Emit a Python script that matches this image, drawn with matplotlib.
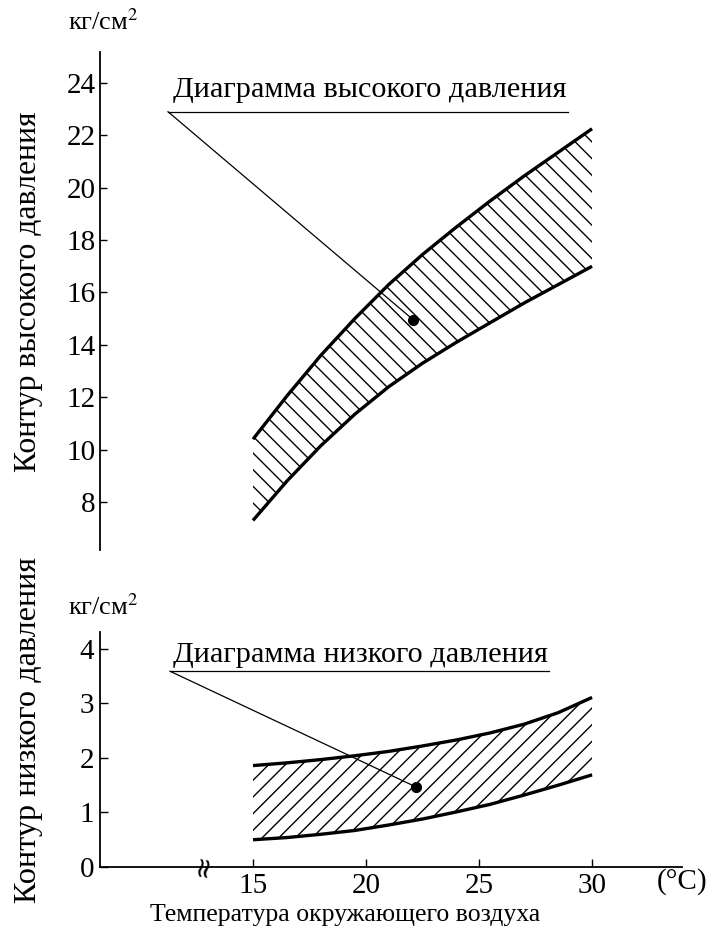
import numpy as np
import matplotlib.pyplot as plt

plt.rcParams['font.family'] = ['Liberation Serif', 'DejaVu Serif']
plt.rcParams['mathtext.fontset'] = 'stix'

temp = [15, 16.5, 18, 19.5, 21, 22.5, 24, 25.5, 27, 28.5, 30]
high_upper = [10.4, 12.05, 13.6, 15.0, 16.3, 17.45, 18.5, 19.5, 20.45, 21.35, 22.25]
high_lower = [7.3, 8.8, 10.15, 11.35, 12.4, 13.3, 14.1, 14.85, 15.6, 16.3, 17.0]
low_upper = [1.86, 1.91, 1.97, 2.04, 2.12, 2.22, 2.33, 2.46, 2.62, 2.83, 3.11]
low_lower = [0.50, 0.54, 0.60, 0.67, 0.77, 0.88, 1.01, 1.15, 1.32, 1.50, 1.69]

high_ticks = [8, 10, 12, 14, 16, 18, 20, 22, 24]
low_ticks = [0, 1, 2, 3, 4]
x_ticks = [15, 20, 25, 30]

high_title = 'Диаграмма высокого давления'
low_title = 'Диаграмма низкого давления'
high_point = (22.1, 14.95)
low_point = (22.2, 1.47)

fs = 21
fig = plt.figure(figsize=(7.09, 9.40), dpi=100)

# upper panel
ax1 = fig.add_axes([100/709, 390/940, 582/709, 498/940])
ax1.set_xlim(8.23, 33.98)
ax1.set_ylim(6.17, 25.18)
for s in ['top', 'right', 'bottom']:
    ax1.spines[s].set_visible(False)
ax1.spines['left'].set_linewidth(1.3)
ax1.set_xticks([])
ax1.set_yticks(high_ticks)
ax1.tick_params(axis='y', direction='in', length=5, width=1, labelsize=fs, pad=3)

ax1.fill_between(temp, high_lower, high_upper, facecolor='none', edgecolor='black',
                 hatch='\\\\', linewidth=0)
ax1.plot(temp, high_upper, color='black', lw=2.4, solid_capstyle='butt', solid_joinstyle='round')
ax1.plot(temp, high_lower, color='black', lw=2.4, solid_capstyle='butt', solid_joinstyle='round')

ax1.plot([11.24, 28.94], [22.9, 22.9], color='black', lw=0.9)
ax1.plot([11.24, high_point[0]], [22.9, high_point[1]], color='black', lw=0.9)
ax1.plot(*high_point, 'o', color='black', ms=7)
ax1.text(11.46, 23.45, high_title, fontsize=21.8, va='baseline', ha='left')

# lower panel
ax2 = fig.add_axes([100/709, 73/940, 582/709, 235/940])
ax2.set_xlim(8.23, 33.98)
ax2.set_ylim(0, 4.31)
for s in ['top', 'right']:
    ax2.spines[s].set_visible(False)
ax2.spines['left'].set_linewidth(1.3)
ax2.spines['bottom'].set_linewidth(1.3)
ax2.set_xticks(x_ticks)
ax2.set_yticks(low_ticks)
ax2.tick_params(axis='both', direction='in', length=6, width=1, labelsize=fs, pad=4)

ax2.fill_between(temp, low_lower, low_upper, facecolor='none', edgecolor='black',
                 hatch='//', linewidth=0)
ax2.plot(temp, low_upper, color='black', lw=2.4, solid_capstyle='butt', solid_joinstyle='round')
ax2.plot(temp, low_lower, color='black', lw=2.4, solid_capstyle='butt', solid_joinstyle='round')

ax2.plot([11.33, 28.1], [3.59, 3.59], color='black', lw=0.9)
ax2.plot([11.33, low_point[0]], [3.59, low_point[1]], color='black', lw=0.9)
ax2.plot(*low_point, 'o', color='black', ms=7)
ax2.text(11.46, 3.76, low_title, fontsize=21.8, va='baseline', ha='left')

# axis break mark
ax2.text(12.8, 0.02, '≈', rotation=80, fontsize=20, ha='center', va='center',
         family='DejaVu Sans')

# labels
fig.text(0.04, 1 - 292/940, 'Контур высокого давления', rotation=90,
         fontsize=22.8, ha='center', va='center')
fig.text(0.04, 1 - 730/940, 'Контур низкого давления', rotation=90,
         fontsize=23.2, ha='center', va='center')
fig.text(68/709, 1 - 22/940, 'кг/см$^{2}$', fontsize=19, ha='left', va='center')
fig.text(68/709, 1 - 607/940, 'кг/см$^{2}$', fontsize=19, ha='left', va='center')
fig.text(682/709, 1 - 882/940, '(°C)', fontsize=fs, ha='center', va='center')
fig.text(150/709, 1 - 915/940, 'Температура окружающего воздуха', fontsize=18.5,
         ha='left', va='center')

fig.savefig('out.png', dpi=100)
